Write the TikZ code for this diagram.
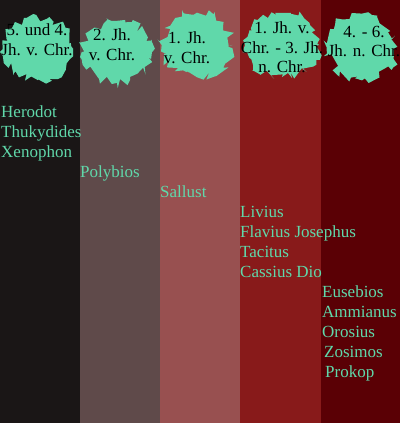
\documentclass[tikz,border=0pt]{standalone}
\usepackage{fontspec}
\setmainfont{Liberation Serif}
\definecolor{coalblack}{RGB}{26,22,22}
\definecolor{ashbrown}{RGB}{95,74,74}
\definecolor{dustrose}{RGB}{152,80,80}
\definecolor{brickred}{RGB}{136,26,26}
\definecolor{bloodred}{RGB}{90,0,5}
\definecolor{mint}{RGB}{96,216,170}
\usetikzlibrary{positioning,decorations.pathmorphing}

\begin{document}
\begin{tikzpicture}[
    x=1pt, y=-1pt,
    column/.style={draw=none},
    blob/.style={fill=mint, decorate, decoration={random steps, segment length=4pt, amplitude=5pt}, line join=round},
    period/.style={anchor=north, inner sep=0pt, align=center, text=black, font=\fontsize{17}{19.5}\selectfont},
    author/.style={anchor=base west, inner sep=0pt, text=mint, font=\fontsize{17}{20}\selectfont}
]
\pgfmathsetseed{11}
\useasboundingbox (0,0) rectangle (400,423);

% Columns
\fill[column, coalblack] (0,0) rectangle (80,423);
\fill[column, ashbrown] (80,0) rectangle (160,423);
\fill[column, dustrose] (160,0) rectangle (240,423);
\fill[column, brickred] (240,0) rectangle (321,423);
\fill[column, bloodred] (321,0) rectangle (400,423);

% Blobs
\fill[blob] (38,49) ellipse [x radius=35, y radius=31];
\fill[blob] (117,52) ellipse [x radius=35, y radius=31];
\fill[blob] (197,45) ellipse [x radius=35, y radius=32];
\fill[blob] (282,45) ellipse [x radius=37, y radius=32];
\fill[blob] (362,47) ellipse [x radius=35, y radius=33];

% Periods
\node[period] (p1) at (37,24) {5. und 4.\\Jh. v. Chr.};
\node[period] (p2) at (112,29) {2. Jh.\\v. Chr.};
\node[period] (p3) at (187,32) {1. Jh.\\v. Chr.};
\node[period] (p4) at (282,22) {1. Jh. v.\\Chr. - 3. Jh.\\n. Chr.};
\node[period] (p5) at (364,26) {4. - 6.\\Jh. n. Chr.};

% Authors
\node[author] (herodot) at (1,117) {Herodot};
\node[author] (thukydides) at (1,137) {Thukydides};
\node[author] (xenophon) at (1,157) {Xenophon};
\node[author] (polybios) at (80,177) {Polybios};
\node[author] (sallust) at (160,197) {Sallust};
\node[author] (livius) at (240,217) {Livius};
\node[author] (josephus) at (240,237) {Flavius Josephus};
\node[author] (tacitus) at (240,257) {Tacitus};
\node[author] (cassius) at (240,277) {Cassius Dio};
\node[author] (eusebios) at (322,297) {Eusebios};
\node[author] (ammianus) at (322,317) {Ammianus};
\node[author] (orosius) at (322,337) {Orosius};
\node[author] (zosimos) at (324,357) {Zosimos};
\node[author] (prokop) at (325,377) {Prokop};

\end{tikzpicture}
\end{document}
